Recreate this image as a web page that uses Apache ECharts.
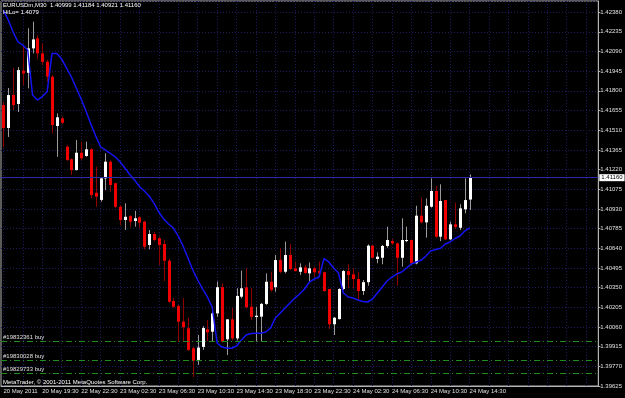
<!DOCTYPE html>
<html>
<head>
<meta charset="utf-8">
<script src="https://cdn.jsdelivr.net/npm/echarts@6/dist/echarts.min.js"></script>
<style>
html, body { margin: 0; padding: 0; background: #000; }
#chart { width: 625px; height: 398px; }
</style>
</head>
<body>
<div id="chart"></div>
<script>
// EURUSDm M30 bars, 20 May 2011 15:30 .. 24 May 14:30
const opens = [
  1.41695, 1.41526, 1.41769, 1.41703, 1.41948, 1.41933, 1.42113, 1.42187, 1.42076, 1.42014,
  1.41904, 1.41541, 1.41597, 1.41388, 1.41296, 1.41216, 1.41344, 1.41320, 1.41369, 1.41049,
  1.40996, 1.41155, 1.41278, 1.41119, 1.40946, 1.40848, 1.40877, 1.40841, 1.40868, 1.40836,
  1.40664, 1.40745, 1.40713, 1.40671, 1.40548, 1.40251, 1.40215, 1.40099, 1.40050, 1.39903,
  1.39817, 1.39913, 1.40043, 1.40025, 1.40160, 1.40353, 1.39969, 1.40116, 1.39976, 1.40283,
  1.40352, 1.40209, 1.40133, 1.40136, 1.40230, 1.40393, 1.40353, 1.40553, 1.40467, 1.40590,
  1.40492, 1.40467, 1.40499, 1.40455, 1.40492, 1.40472, 1.40463, 1.40340, 1.40080, 1.40118,
  1.40340, 1.40472, 1.40448, 1.40413, 1.40325, 1.40390, 1.40659, 1.40561, 1.40570, 1.40657,
  1.40693, 1.40676, 1.40570, 1.40693, 1.40701, 1.40529, 1.40880, 1.40831, 1.40946, 1.41062,
  1.40725, 1.40995, 1.40706, 1.40816, 1.40791, 1.40927, 1.40999
];
const highs = [
  1.41717, 1.41821, 1.41968, 1.41975, 1.42125, 1.42261, 1.42309, 1.42211, 1.42150, 1.42027,
  1.41916, 1.41634, 1.41609, 1.41401, 1.41303, 1.41438, 1.41425, 1.41425, 1.41378, 1.41241,
  1.41161, 1.41340, 1.41286, 1.41125, 1.40959, 1.40971, 1.40885, 1.40916, 1.40877, 1.40843,
  1.40775, 1.40762, 1.40725, 1.40701, 1.40561, 1.40273, 1.40222, 1.40273, 1.40126, 1.39913,
  1.40001, 1.40067, 1.40110, 1.40209, 1.40395, 1.40382, 1.40118, 1.40200, 1.40345, 1.40475,
  1.40492, 1.40345, 1.40209, 1.40237, 1.40455, 1.40467, 1.40590, 1.40640, 1.40689, 1.40671,
  1.40541, 1.40529, 1.40517, 1.40536, 1.40504, 1.40541, 1.40467, 1.40340, 1.40133, 1.40345,
  1.40480, 1.40521, 1.40492, 1.40463, 1.40406, 1.40669, 1.40664, 1.40610, 1.40664, 1.40799,
  1.40708, 1.40684, 1.40861, 1.40799, 1.40704, 1.40953, 1.41012, 1.41008, 1.41155, 1.41099,
  1.41111, 1.40995, 1.40836, 1.40976, 1.40964, 1.41155, 1.41184
];
const lows = [
  1.41386, 1.41460, 1.41659, 1.41644, 1.41843, 1.41818, 1.42076, 1.42039, 1.41990, 1.41867,
  1.41487, 1.41314, 1.41555, 1.41283, 1.41180, 1.41213, 1.41290, 1.41314, 1.41008, 1.40946,
  1.40983, 1.41069, 1.41057, 1.40937, 1.40811, 1.40775, 1.40799, 1.40799, 1.40790, 1.40632,
  1.40632, 1.40689, 1.40517, 1.40399, 1.40237, 1.40200, 1.39949, 1.39949, 1.39883, 1.39691,
  1.39780, 1.39891, 1.39954, 1.39954, 1.40134, 1.39946, 1.39853, 1.39961, 1.39961, 1.40271,
  1.40197, 1.40110, 1.39952, 1.39952, 1.40222, 1.40320, 1.40320, 1.40455, 1.40455, 1.40480,
  1.40467, 1.40443, 1.40450, 1.40395, 1.40430, 1.40443, 1.40320, 1.40045, 1.40001, 1.40115,
  1.40332, 1.40345, 1.40345, 1.40259, 1.40296, 1.40364, 1.40566, 1.40529, 1.40522, 1.40644,
  1.40664, 1.40364, 1.40504, 1.40684, 1.40528, 1.40522, 1.40824, 1.40718, 1.40939, 1.40718,
  1.40693, 1.40701, 1.40699, 1.40782, 1.40774, 1.40897, 1.40921
];
const closes = [
  1.41526, 1.41769, 1.41695, 1.41953, 1.41929, 1.42113, 1.42179, 1.42076, 1.42014, 1.41904,
  1.41548, 1.41605, 1.41565, 1.41290, 1.41216, 1.41344, 1.41303, 1.41369, 1.41032, 1.41020,
  1.41155, 1.41278, 1.41106, 1.40946, 1.40848, 1.40872, 1.40836, 1.40861, 1.40829, 1.40651,
  1.40745, 1.40701, 1.40664, 1.40548, 1.40246, 1.40209, 1.40099, 1.40058, 1.39891, 1.39812,
  1.39908, 1.40052, 1.40021, 1.40160, 1.40353, 1.39952, 1.40116, 1.39976, 1.40288, 1.40345,
  1.40205, 1.40134, 1.40143, 1.40230, 1.40393, 1.40332, 1.40553, 1.40467, 1.40590, 1.40487,
  1.40472, 1.40499, 1.40458, 1.40492, 1.40463, 1.40455, 1.40325, 1.40080, 1.40128, 1.40340,
  1.40472, 1.40443, 1.40413, 1.40325, 1.40390, 1.40659, 1.40570, 1.40578, 1.40657, 1.40701,
  1.40676, 1.40570, 1.40701, 1.40701, 1.40529, 1.40880, 1.40831, 1.40953, 1.41062, 1.40725,
  1.40988, 1.40706, 1.40816, 1.40797, 1.40934, 1.40995, 1.41160
];
// HiLo indicator
const hilo = [
  1.42395, 1.42322, 1.42233, 1.42160, 1.42137, 1.42101, 1.41769, 1.41732, 1.41758, 1.41793,
  1.42076, 1.42075, 1.42034, 1.41968, 1.41902, 1.41821, 1.41740, 1.41651, 1.41555, 1.41467,
  1.41388, 1.41364, 1.41340, 1.41314, 1.41278, 1.41231, 1.41183, 1.41143, 1.41095, 1.41062,
  1.41025, 1.40973, 1.40907, 1.40855, 1.40819, 1.40789, 1.40730, 1.40656, 1.40568, 1.40480,
  1.40406, 1.40340, 1.40281, 1.40207, 1.39942, 1.39912, 1.39903, 1.39903, 1.39920, 1.39964,
  1.40001, 1.40012, 1.40013, 1.40013, 1.40023, 1.40052, 1.40126, 1.40163, 1.40200, 1.40237,
  1.40273, 1.40303, 1.40340, 1.40391, 1.40413, 1.40428, 1.40564, 1.40539, 1.40494, 1.40458,
  1.40310, 1.40281, 1.40273, 1.40259, 1.40248, 1.40244, 1.40266, 1.40310, 1.40354, 1.40399,
  1.40428, 1.40450, 1.40465, 1.40494, 1.40524, 1.40539, 1.40551, 1.40583, 1.40620, 1.40631,
  1.40640, 1.40671, 1.40686, 1.40712, 1.40730, 1.40767, 1.40790
];
const dateLabels = [
  '20 May 2011', '20 May 19:30', '22 May 22:30', '23 May 02:30', '23 May 06:30',
  '23 May 10:30', '23 May 14:30', '23 May 18:30', '23 May 22:30', '24 May 02:30',
  '24 May 06:30', '24 May 10:30', '24 May 14:30'
];
const tradePrices = [1.39954, 1.39813, 1.39719];
const tradeLabels = ['#19832361 buy', '#19830028 buy', '#19829733 buy'];
const lastPrice = 1.41160;
const emptySlots = 26; // chart shift on the right

const font = 'Liberation Sans';
const textColor = '#e0e0e0';
const frameColor = '#b4b4b4';
const gridColor = '#1c1c5c';

const last = opens.length - 1;
const categories = Array.from({ length: opens.length + emptySlots }, (_, i) => String(i));
const candles = opens.map((o, i) => [i, o, closes[i], lows[i], highs[i]]);
const isLabelIdx = (i) => i % 8 === 0 && i / 8 < dateLabels.length;

const renderCandle = (params, api) => {
  const idx = api.value(0);
  const o = api.value(1), c = api.value(2), l = api.value(3), h = api.value(4);
  const x = Math.round(api.coord([idx, o])[0]);
  const yo = api.coord([idx, o])[1];
  const yc = api.coord([idx, c])[1];
  const yl = api.coord([idx, l])[1];
  const yh = api.coord([idx, h])[1];
  const up = c >= o;
  const top = Math.min(yo, yc);
  const bot = Math.max(yo, yc);
  return {
    type: 'group',
    children: [
      {
        type: 'line',
        shape: { x1: x + 0.5, y1: yh, x2: x + 0.5, y2: yl },
        style: { stroke: up ? '#9a9a9a' : '#900000', lineWidth: 1 }
      },
      {
        type: 'rect',
        shape: { x: x - 1, y: top, width: 3, height: Math.max(bot - top, 1) },
        style: { fill: up ? '#ffffff' : '#f00000' }
      }
    ]
  };
};

const smallText = { color: textColor, fontSize: 6, fontFamily: font, fontWeight: 'normal' };

const chart = echarts.init(document.getElementById('chart'));
chart.setOption({
  backgroundColor: '#000',
  animation: false,
  title: [
    {
      text: `EURUSDm,M30  ${opens[last].toFixed(5)} ${highs[last].toFixed(5)} ${lows[last].toFixed(5)} ${closes[last].toFixed(5)}`,
      left: 3, top: 2, padding: 0,
      textStyle: { ...smallText, color: '#fff' }
    },
    {
      text: `HiLo= ${hilo[last].toFixed(4)}`,
      left: 3, top: 9, padding: 0,
      textStyle: { ...smallText, color: '#fff' }
    },
    {
      text: 'MetaTrader, © 2001-2011 MetaQuotes Software Corp.',
      left: 3, top: 379, padding: 0,
      textStyle: { ...smallText, color: '#fff' }
    }
  ],
  grid: {
    left: 1, right: 22, top: 1, bottom: 12,
    show: true, borderColor: frameColor, borderWidth: 1, backgroundColor: '#000'
  },
  xAxis: {
    type: 'category',
    data: categories,
    boundaryGap: true,
    axisLine: { lineStyle: { color: frameColor } },
    axisTick: {
      alignWithLabel: true,
      interval: (i) => isLabelIdx(i),
      length: 3,
      lineStyle: { color: frameColor }
    },
    axisLabel: {
      interval: (i) => isLabelIdx(i),
      formatter: (v, i) => dateLabels[i / 8] || '',
      align: 'left',
      margin: 2,
      ...smallText
    },
    splitLine: {
      show: true,
      interval: 3,
      alignWithLabel: true,
      lineStyle: { color: gridColor, type: [1, 2] }
    }
  },
  yAxis: {
    type: 'value',
    position: 'right',
    min: 1.39625,
    max: 1.42462,
    interval: 0.00145,
    axisLine: { show: true, lineStyle: { color: frameColor } },
    axisTick: { show: true, length: 2, lineStyle: { color: frameColor } },
    axisLabel: {
      formatter: (v) => v.toFixed(5),
      showMaxLabel: false,
      margin: 2,
      ...smallText
    },
    splitLine: { show: true, lineStyle: { color: gridColor, type: [1, 2] } }
  },
  series: [
    {
      name: 'EURUSDm',
      type: 'custom',
      renderItem: renderCandle,
      encode: { x: 0, y: [1, 2, 3, 4] },
      data: candles,
      clip: true,
      z: 2
    },
    {
      // bid line
      name: 'Bid',
      type: 'line',
      data: [],
      z: 1,
      markLine: {
        silent: true,
        symbol: 'none',
        precision: 5,
        animation: false,
        lineStyle: { color: '#2a2aa8', type: 'solid', width: 1, opacity: 1 },
        label: {
          show: true,
          position: 'end',
          formatter: lastPrice.toFixed(5),
          backgroundColor: '#fff',
          color: '#000',
          fontSize: 6,
          fontFamily: font,
          padding: [1, 2, 0, 2],
          distance: 1
        },
        data: [{ yAxis: lastPrice }]
      }
    },
    {
      name: 'HiLo',
      type: 'line',
      data: hilo,
      symbol: 'none',
      lineStyle: { color: '#1414f0', width: 1.5 },
      z: 3,
      markLine: {
        silent: true,
        symbol: 'none',
        precision: 5,
        animation: false,
        data: tradePrices.map((p, i) => ({
          yAxis: p,
          lineStyle: { color: '#1f8c1f', type: [6, 3, 1, 3], width: 1, opacity: 1 },
          label: {
            show: true,
            position: 'insideStartTop',
            formatter: tradeLabels[i],
            distance: [2, 1],
            ...smallText
          }
        }))
      }
    }
  ]
});
</script>
</body>
</html>
